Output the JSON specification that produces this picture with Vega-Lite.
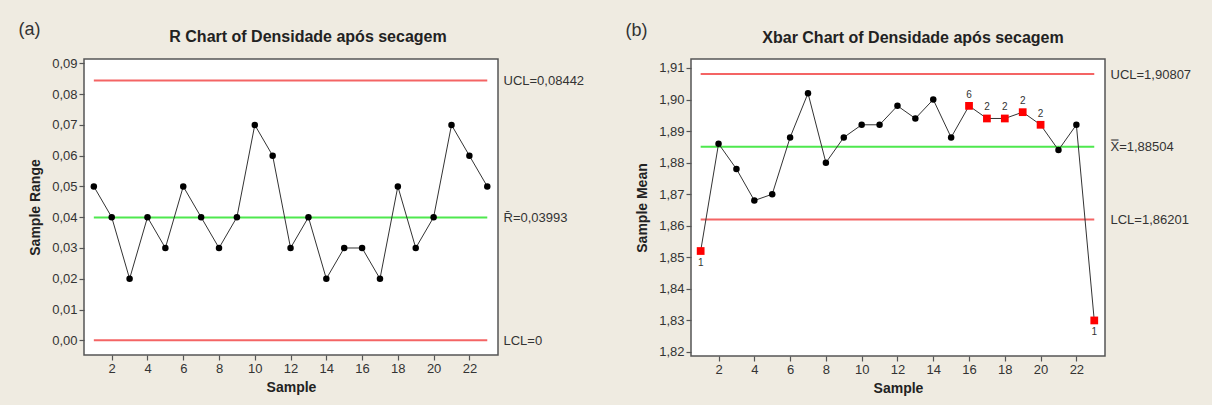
{
  "$schema": "https://vega.github.io/schema/vega-lite/v6.json",
  "background": "#efebe1",
  "autosize": {"type": "pad"},
  "padding": {"left": 17, "top": 19, "right": 22, "bottom": 11},
  "bounds": "flush",
  "spacing": 193,
  "config": {
    "font": "Liberation Sans",
    "view": {"stroke": "#555555", "strokeWidth": 1.5, "fill": "white"},
    "axis": {
      "labelFont": "Liberation Sans", "labelFontSize": 13, "labelColor": "#333333",
      "titleFont": "Liberation Sans", "titleFontSize": 14, "titleFontWeight": "bold", "titleColor": "#222222",
      "tickColor": "#555555", "tickSize": 5, "tickWidth": 1.2, "domain": false, "grid": false, "labelPadding": 2
    },
    "title": {"font": "Liberation Sans", "fontSize": 16, "fontWeight": "bold", "color": "#222222"}
  },
  "datasets": {
    "r": [
      {"sample": 1, "range": 0.05}, {"sample": 2, "range": 0.04}, {"sample": 3, "range": 0.02},
      {"sample": 4, "range": 0.04}, {"sample": 5, "range": 0.03}, {"sample": 6, "range": 0.05},
      {"sample": 7, "range": 0.04}, {"sample": 8, "range": 0.03}, {"sample": 9, "range": 0.04},
      {"sample": 10, "range": 0.07}, {"sample": 11, "range": 0.06}, {"sample": 12, "range": 0.03},
      {"sample": 13, "range": 0.04}, {"sample": 14, "range": 0.02}, {"sample": 15, "range": 0.03},
      {"sample": 16, "range": 0.03}, {"sample": 17, "range": 0.02}, {"sample": 18, "range": 0.05},
      {"sample": 19, "range": 0.03}, {"sample": 20, "range": 0.04}, {"sample": 21, "range": 0.07},
      {"sample": 22, "range": 0.06}, {"sample": 23, "range": 0.05}
    ],
    "rlim": [
      {"kind": "limit", "value": 0.08442},
      {"kind": "center", "value": 0.03993},
      {"kind": "limit", "value": 0}
    ],
    "xbar": [
      {"sample": 1, "mean": 1.852, "test": "1"}, {"sample": 2, "mean": 1.886, "test": ""},
      {"sample": 3, "mean": 1.878, "test": ""}, {"sample": 4, "mean": 1.868, "test": ""},
      {"sample": 5, "mean": 1.870, "test": ""}, {"sample": 6, "mean": 1.888, "test": ""},
      {"sample": 7, "mean": 1.902, "test": ""}, {"sample": 8, "mean": 1.880, "test": ""},
      {"sample": 9, "mean": 1.888, "test": ""}, {"sample": 10, "mean": 1.892, "test": ""},
      {"sample": 11, "mean": 1.892, "test": ""}, {"sample": 12, "mean": 1.898, "test": ""},
      {"sample": 13, "mean": 1.894, "test": ""}, {"sample": 14, "mean": 1.900, "test": ""},
      {"sample": 15, "mean": 1.888, "test": ""}, {"sample": 16, "mean": 1.898, "test": "6"},
      {"sample": 17, "mean": 1.894, "test": "2"}, {"sample": 18, "mean": 1.894, "test": "2"},
      {"sample": 19, "mean": 1.896, "test": "2"}, {"sample": 20, "mean": 1.892, "test": "2"},
      {"sample": 21, "mean": 1.884, "test": ""}, {"sample": 22, "mean": 1.892, "test": ""},
      {"sample": 23, "mean": 1.830, "test": "1"}
    ],
    "xlim": [
      {"kind": "limit", "value": 1.90807},
      {"kind": "center", "value": 1.88504},
      {"kind": "limit", "value": 1.86201}
    ]
  },
  "hconcat": [
    {
      "width": 414,
      "height": 296,
      "title": {"text": "R Chart of Densidade após secagem", "dx": 17, "offset": -25},
      "resolve": {"axis": {"y": "independent"}},
      "layer": [
        {
          "data": {"name": "rlim"},
          "mark": {"type": "rule", "strokeWidth": 2},
          "encoding": {
            "x": {"datum": 1, "type": "quantitative", "scale": {"domain": [0.45, 23.6], "nice": false, "zero": false}, "axis": {"title": "Sample", "values": [2, 4, 6, 8, 10, 12, 14, 16, 18, 20, 22], "titlePadding": 5}},
            "x2": {"datum": 23},
            "y": {
              "field": "value", "type": "quantitative",
              "scale": {"domain": [-0.00478, 0.09143], "nice": false, "zero": false},
              "axis": {
                "orient": "right", "values": [0.08442, 0.03993, 0], "ticks": false, "labelPadding": 5,
                "labelExpr": "datum.value > 0.06 ? 'UCL=0,08442' : datum.value > 0.02 ? 'R\u0304=0,03993' : 'LCL=0'",
                "title": "(a)", "titleAngle": 0, "titleAlign": "left", "titleBaseline": "middle",
                "titleFontSize": 18, "titleFontWeight": "normal", "titleColor": "#333333",
                "titleX": -480, "titleY": -30
              }
            },
            "color": {"field": "kind", "type": "nominal", "scale": {"domain": ["limit", "center"], "range": ["#f46464", "#4ee84e"]}, "legend": null}
          }
        },
        {
          "data": {"name": "r"},
          "mark": {"type": "line", "color": "#333333", "strokeWidth": 1},
          "encoding": {
            "x": {"field": "sample", "type": "quantitative", "scale": {"domain": [0.45, 23.6], "nice": false, "zero": false}, "axis": {"title": "Sample", "values": [2, 4, 6, 8, 10, 12, 14, 16, 18, 20, 22], "titlePadding": 5}},
            "y": {
              "field": "range", "type": "quantitative",
              "scale": {"domain": [-0.00478, 0.09143], "nice": false, "zero": false},
              "axis": {
                "title": "Sample Range", "values": [0, 0.01, 0.02, 0.03, 0.04, 0.05, 0.06, 0.07, 0.08, 0.09],
                "labelExpr": "replace(format(datum.value, '.2f'), '.', ',')", "titlePadding": 9
              }
            }
          }
        },
        {
          "data": {"name": "r"},
          "mark": {"type": "circle", "color": "black", "opacity": 1, "size": 42},
          "encoding": {
            "x": {"field": "sample", "type": "quantitative", "scale": {"domain": [0.45, 23.6], "nice": false, "zero": false}, "axis": {"title": "Sample", "values": [2, 4, 6, 8, 10, 12, 14, 16, 18, 20, 22], "titlePadding": 5}},
            "y": {"field": "range", "type": "quantitative", "scale": {"domain": [-0.00478, 0.09143], "nice": false, "zero": false}, "axis": null}
          }
        }
      ]
    },
    {
      "width": 414,
      "height": 297,
      "title": {"text": "Xbar Chart of Densidade após secagem", "dx": 15, "offset": -25},
      "resolve": {"axis": {"y": "independent"}},
      "layer": [
        {
          "data": {"name": "xlim"},
          "mark": {"type": "rule", "strokeWidth": 2},
          "encoding": {
            "x": {"datum": 1, "type": "quantitative", "scale": {"domain": [0.46, 23.6], "nice": false, "zero": false}, "axis": {"title": "Sample", "values": [2, 4, 6, 8, 10, 12, 14, 16, 18, 20, 22], "titlePadding": 5}},
            "x2": {"datum": 23},
            "y": {
              "field": "value", "type": "quantitative",
              "scale": {"domain": [1.81873, 1.91285], "nice": false, "zero": false},
              "axis": {
                "orient": "right", "values": [1.90807, 1.88504, 1.86201], "ticks": false, "labelPadding": 5,
                "labelExpr": "datum.value > 1.9 ? 'UCL=1,90807' : datum.value > 1.87 ? 'X\u033f=1,88504' : 'LCL=1,86201'",
                "title": "(b)", "titleAngle": 0, "titleAlign": "left", "titleBaseline": "middle",
                "titleFontSize": 18, "titleFontWeight": "normal", "titleColor": "#333333",
                "titleX": -480, "titleY": -29
              }
            },
            "color": {"field": "kind", "type": "nominal", "scale": {"domain": ["limit", "center"], "range": ["#f46464", "#4ee84e"]}, "legend": null}
          }
        },
        {
          "data": {"name": "xbar"},
          "mark": {"type": "line", "color": "#333333", "strokeWidth": 1},
          "encoding": {
            "x": {"field": "sample", "type": "quantitative", "scale": {"domain": [0.46, 23.6], "nice": false, "zero": false}, "axis": {"title": "Sample", "values": [2, 4, 6, 8, 10, 12, 14, 16, 18, 20, 22], "titlePadding": 5}},
            "y": {
              "field": "mean", "type": "quantitative",
              "scale": {"domain": [1.81873, 1.91285], "nice": false, "zero": false},
              "axis": {
                "title": "Sample Mean", "values": [1.82, 1.83, 1.84, 1.85, 1.86, 1.87, 1.88, 1.89, 1.9, 1.91],
                "labelExpr": "replace(format(datum.value, '.2f'), '.', ',')", "titlePadding": 9
              }
            }
          }
        },
        {
          "data": {"name": "xbar"},
          "transform": [{"filter": "datum.test == ''"}],
          "mark": {"type": "circle", "color": "black", "opacity": 1, "size": 42},
          "encoding": {
            "x": {"field": "sample", "type": "quantitative", "scale": {"domain": [0.46, 23.6], "nice": false, "zero": false}, "axis": {"title": "Sample", "values": [2, 4, 6, 8, 10, 12, 14, 16, 18, 20, 22], "titlePadding": 5}},
            "y": {"field": "mean", "type": "quantitative", "scale": {"domain": [1.81873, 1.91285], "nice": false, "zero": false}, "axis": null}
          }
        },
        {
          "data": {"name": "xbar"},
          "transform": [{"filter": "datum.test != ''"}],
          "mark": {"type": "square", "color": "#ff0000", "opacity": 1, "size": 60},
          "encoding": {
            "x": {"field": "sample", "type": "quantitative", "scale": {"domain": [0.46, 23.6], "nice": false, "zero": false}, "axis": {"title": "Sample", "values": [2, 4, 6, 8, 10, 12, 14, 16, 18, 20, 22], "titlePadding": 5}},
            "y": {"field": "mean", "type": "quantitative", "scale": {"domain": [1.81873, 1.91285], "nice": false, "zero": false}, "axis": null}
          }
        },
        {
          "data": {"name": "xbar"},
          "transform": [{"filter": "datum.test == '1'"}],
          "mark": {"type": "text", "fontSize": 10, "color": "#333333", "dy": 12},
          "encoding": {
            "x": {"field": "sample", "type": "quantitative", "scale": {"domain": [0.46, 23.6], "nice": false, "zero": false}, "axis": {"title": "Sample", "values": [2, 4, 6, 8, 10, 12, 14, 16, 18, 20, 22], "titlePadding": 5}},
            "y": {"field": "mean", "type": "quantitative", "scale": {"domain": [1.81873, 1.91285], "nice": false, "zero": false}, "axis": null},
            "text": {"field": "test"}
          }
        },
        {
          "data": {"name": "xbar"},
          "transform": [{"filter": "datum.test != '' && datum.test != '1'"}],
          "mark": {"type": "text", "fontSize": 10, "color": "#333333", "dy": -11},
          "encoding": {
            "x": {"field": "sample", "type": "quantitative", "scale": {"domain": [0.46, 23.6], "nice": false, "zero": false}, "axis": {"title": "Sample", "values": [2, 4, 6, 8, 10, 12, 14, 16, 18, 20, 22], "titlePadding": 5}},
            "y": {"field": "mean", "type": "quantitative", "scale": {"domain": [1.81873, 1.91285], "nice": false, "zero": false}, "axis": null},
            "text": {"field": "test"}
          }
        }
      ]
    }
  ]
}
